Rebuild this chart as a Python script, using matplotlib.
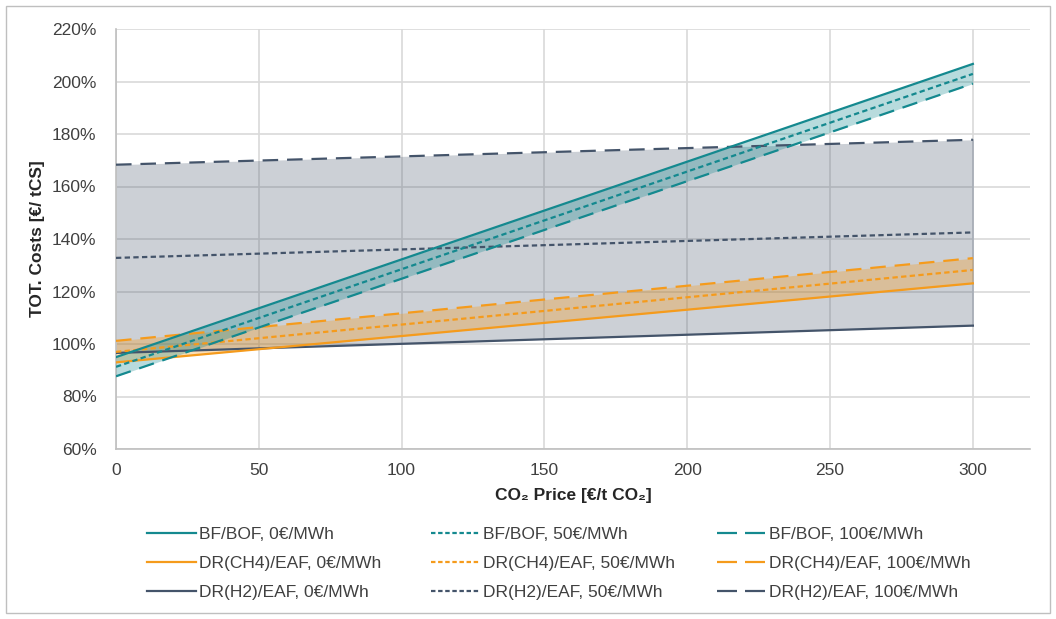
import numpy as np
import matplotlib
matplotlib.use("Agg")
import matplotlib.pyplot as plt
from matplotlib.ticker import PercentFormatter, MultipleLocator
from matplotlib.lines import Line2D
from matplotlib.patches import Rectangle

plt.rcParams['font.family'] = ['Liberation Sans', 'DejaVu Sans']

# CO2 price [€/t CO2]
co2_price = [0, 300]

# total costs [% of reference], read at the two ends of each line
bf_0 = [95.0, 206.7]
bf_50 = [91.3, 202.9]
bf_100 = [87.7, 199.2]
ch4_0 = [93.0, 123.1]
ch4_50 = [97.0, 128.2]
ch4_100 = [101.2, 132.7]
h2_0 = [96.6, 107.0]
h2_50 = [132.8, 142.5]
h2_100 = [168.3, 177.8]

techs = ["BF/BOF", "DR(CH4)/EAF", "DR(H2)/EAF"]
power_prices = ["0€/MWh", "50€/MWh", "100€/MWh"]

TEAL = '#14898f'
ORANGE = '#f59b1c'
SLATE = '#44546a'
GRID = '#d9d9d9'
TXT = '#404040'
FS = 12.5

styles = {
  0: dict(linestyle='-'),
  1: dict(linestyle=(0, (2.4, 1.5))),
  2: dict(linestyle=(0, (7, 4))),
}
legend_styles = {
  0: dict(linestyle='-'),
  1: dict(linestyle=(0, (2.0, 1.2))),
  2: dict(linestyle=(0, (9, 3.6))),
}

fig = plt.figure(figsize=(10.56, 6.19), dpi=100)
ax = fig.add_axes([116/1056, 1-449/619, (1030-116)/1056, (449-29)/619])

x = np.array(co2_price)
series = [
  (TEAL, [bf_0, bf_50, bf_100]),
  (ORANGE, [ch4_0, ch4_50, ch4_100]),
  (SLATE, [h2_0, h2_50, h2_100]),
]

# bands first (slate at the bottom, teal on top)
ax.fill_between(x, h2_0, h2_100, color=SLATE, alpha=0.27, lw=0, zorder=1)
ax.fill_between(x, ch4_0, ch4_100, color=ORANGE, alpha=0.32, lw=0, zorder=2)
ax.fill_between(x, bf_0, bf_100, color=TEAL, alpha=0.3, lw=0, zorder=3)

# band edge at x=300
ax.plot([300, 300], [h2_0[1], h2_100[1]], color='#a9afb8', lw=1.2, zorder=1.5)

for color, vals in series[::-1]:
  for i, v in enumerate(vals):
    ax.plot(x, v, color=color, lw=1.6, zorder=4, **styles[i])

ax.set_xlim(0, 320)
ax.set_ylim(60, 220)
ax.yaxis.set_major_locator(MultipleLocator(20))
ax.set_xticks([0, 50, 100, 150, 200, 250, 300])
ax.yaxis.set_major_formatter(PercentFormatter(decimals=0))
ax.grid(True, color=GRID, lw=1.2)
ax.set_axisbelow(True)
for s in ['top', 'right']:
  ax.spines[s].set_visible(False)
for s in ['left', 'bottom']:
  ax.spines[s].set_color('#bfbfbf')
  ax.spines[s].set_linewidth(1.2)
ax.tick_params(length=0, labelsize=FS, colors=TXT, pad=10)
ax.tick_params(axis='y', pad=14)

ax.set_xlabel('CO₂ Price [€/t CO₂]', fontsize=FS, fontweight='bold', color='#262626', labelpad=7)
ax.set_ylabel('TOT. Costs [€/ tCS]', fontsize=FS, fontweight='bold', color='#262626', labelpad=5)

# legend: one column per power price
col_x = [147/1056, 431/1056, 717/1056]
for j, pp in enumerate(power_prices):
  handles = []
  labels = []
  for (color, _), tech in zip(series, techs):
    handles.append(Line2D([0], [0], color=color, lw=1.6, **legend_styles[j]))
    labels.append(f"{tech}, {pp}")
  fig.legend(handles, labels, loc='upper left', bbox_to_anchor=(col_x[j], 1-527/619),
             frameon=False, fontsize=FS, handlelength=2.85, handletextpad=0.12,
             labelspacing=0.8, borderpad=0, borderaxespad=0, labelcolor=TXT)

fig.patches.append(Rectangle((6/1056, 6/619), 1-12/1056, 1-12/619, transform=fig.transFigure,
                             fill=False, edgecolor='#bfbfbf', lw=1))

fig.savefig('out.png', dpi=100)
